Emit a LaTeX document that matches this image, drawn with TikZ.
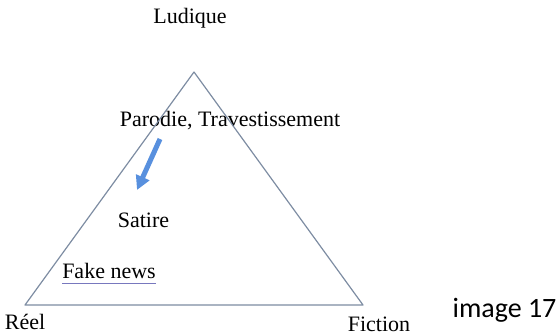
\documentclass[tikz,border=0pt]{standalone}
\usepackage{fontspec}
\setmainfont{Liberation Serif}
\newfontfamily\captionfont{Carlito}
\usetikzlibrary{arrows.meta}

\definecolor{edgegray}{RGB}{125,140,162}
\definecolor{arrowblue}{RGB}{88,144,222}
\definecolor{linkblue}{RGB}{120,120,190}

\begin{document}
\begin{tikzpicture}[x=1pt, y=-1pt,
    term/.style={inner sep=0pt, anchor=base, font=\fontsize{22}{25}\selectfont},
    side/.style={draw=edgegray, line width=1.2pt, line join=round},
    drift/.style={draw=arrowblue, line width=5pt, -{Triangle[length=14pt, width=14pt]}}]
\useasboundingbox (0,0) rectangle (559,336);

\coordinate (top) at (194, 72);
\coordinate (left) at (25, 305);
\coordinate (right) at (363, 305);

\node (ludique) at (190, 24) [term] {Ludique};
\node (parodie) at (230, 127) [term] {Parodie, Travestissement};
\node (satire) at (143.5, 228) [term] {Satire};
\node (fake) at (109, 279) [term] {Fake news};
\node (reel) at (25, 329) [term] {Réel};
\node (fiction) at (379, 331) [term] {Fiction};
\node (caption) at (504.5, 317) [inner sep=0pt, anchor=base, font=\captionfont\fontsize{28}{32}\selectfont] {image 17};

\draw [side] (top) -- (left) -- (right) -- cycle;

\coordinate (tail) at (160, 139);
\coordinate (tip) at (137, 190);
\draw [drift] (tail) -- (tip);

\draw [linkblue, line width=0.8pt] ([yshift=-4pt]fake.base west) -- ([yshift=-4pt]fake.base east);
\end{tikzpicture}
\end{document}
